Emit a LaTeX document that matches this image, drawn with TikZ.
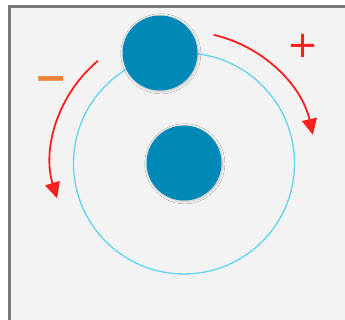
\documentclass[tikz,border=0pt]{standalone}
\usepackage{fontspec}
\newfontfamily\signfont{DejaVu Sans}
\usetikzlibrary{arrows.meta, shadows.blur}
\definecolor{BallBlue}{RGB}{0,137,183}
\definecolor{OrbitCyan}{RGB}{96,212,240}
\definecolor{SpinRed}{RGB}{255,30,30}
\definecolor{SignOrange}{RGB}{238,128,50}
\definecolor{PanelGray}{RGB}{243,243,243}
\definecolor{FrameGray}{RGB}{120,120,120}

\begin{document}
\begin{tikzpicture}[x=1pt, y=1pt,
      ball/.style={circle, fill=BallBlue, inner sep=0pt, minimum size=75pt,
                   blur shadow={shadow xshift=0.8pt, shadow yshift=-0.8pt,
                                shadow blur radius=2.5pt, shadow blur steps=8,
                                shadow opacity=22}},
      spin/.style={-{Triangle[length=16pt, width=15pt]}, draw=SpinRed, line width=1.8pt},
      sign/.style={font=\signfont\fontsize{37}{37}\selectfont, inner sep=0pt}
    ]
    \useasboundingbox (0,0) rectangle (345,320);
    \fill[white] (0,0) rectangle (345,320);
    \filldraw[fill=PanelGray, draw=FrameGray, line width=3pt] (9.5,-10) rectangle (360,313.5);

    % orbit and bodies
    \node[circle, draw=OrbitCyan, line width=1.3pt, inner sep=0pt, minimum size=221pt]
          (orbit) at (184,156.5) {};
    \node[ball] (sun)    at (184,157) {};
    \node[ball] (planet) at (160,267) {};

    % direction of rotation
    \draw[spin] (orbit.center) ++(77:132) arc[start angle=77, end angle=12.5, radius=132];
    \draw[spin] (orbit.center) ++(130:134) arc[start angle=130, end angle=197, radius=130];

    \node[sign, text=SpinRed]    (plus)  at (303,274) {+};
    \node[sign, text=SignOrange, font=\signfont\bfseries\fontsize{40}{40}\selectfont]
          (minus) at (51,236) {−};
  \end{tikzpicture}
\end{document}
